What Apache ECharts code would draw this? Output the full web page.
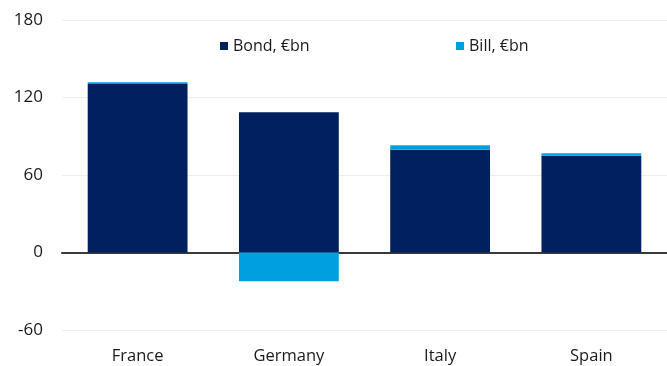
<!DOCTYPE html>
<html><head><meta charset="utf-8">
<script src="https://cdn.jsdelivr.net/npm/echarts@6/dist/echarts.min.js"></script>
<style>html,body{margin:0;padding:0;background:#fff}#c{width:667px;height:366px}</style>
</head><body><div id="c"></div>
<script>
const categories = ['France', 'Germany', 'Italy', 'Spain'];
const bondValues = [130.5, 108.5, 79.5, 75];
const billValues = [1.3, -22.3, 3.5, 1.8];
const seriesNames = ['Bond, €bn', 'Bill, €bn'];
const yTicks = { min: -60, max: 180, interval: 60 };

const FONT = 'Open Sans';
const chart = echarts.init(document.getElementById('c'));
chart.setOption({
  animation: false,
  textStyle: { fontFamily: FONT },
  grid: { left: 62, right: 0, top: 20, bottom: 36, containLabel: false },
  legend: [
    { data: [seriesNames[0]], left: 215, top: 33, itemWidth: 8, itemHeight: 8, icon: 'rect', itemGap: 6,
      textStyle: { fontFamily: FONT, fontSize: 16, color: '#1a1a1a' } },
    { data: [seriesNames[1]], left: 451, top: 33, itemWidth: 8, itemHeight: 8, icon: 'rect', itemGap: 6,
      textStyle: { fontFamily: FONT, fontSize: 16, color: '#1a1a1a' } }
  ],
  xAxis: {
    type: 'category', data: categories,
    axisTick: { show: false },
    axisLine: { onZero: true, lineStyle: { color: '#3a3a3a', width: 2 } },
    axisLabel: { fontSize: 16.5, color: '#1a1a1a', margin: 18, fontFamily: FONT }
  },
  yAxis: {
    type: 'value', min: yTicks.min, max: yTicks.max, interval: yTicks.interval,
    axisLine: { show: false }, axisTick: { show: false },
    axisLabel: { fontSize: 17, color: '#1a1a1a', margin: 19, fontFamily: FONT },
    splitLine: { lineStyle: { color: '#eeeeee', width: 1 } }
  },
  series: [
    { name: seriesNames[0], type: 'bar', stack: 'a', data: bondValues, barWidth: '66%',
      itemStyle: { color: '#002060' } },
    { name: seriesNames[1], type: 'bar', stack: 'a', data: billValues, barWidth: '66%',
      itemStyle: { color: '#009fdf' } }
  ]
});
</script></body></html>
